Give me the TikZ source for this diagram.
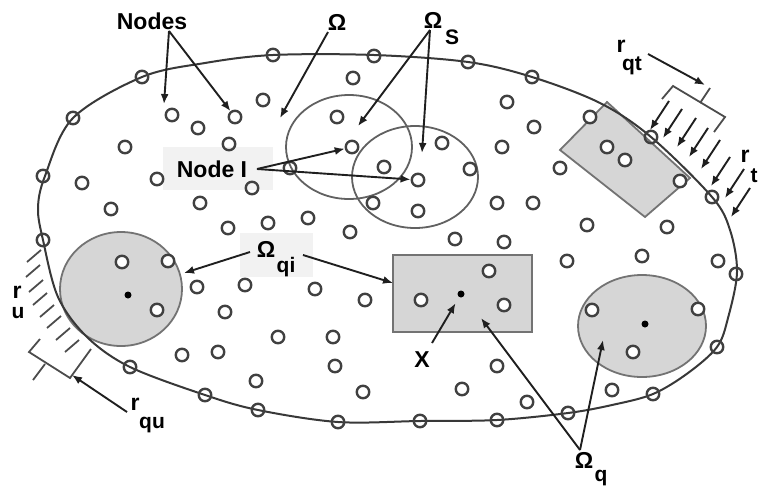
\documentclass[tikz,border=0pt]{standalone}
\usepackage{fontspec}
\setmainfont{Liberation Sans}
\usetikzlibrary{arrows.meta}

\tikzset{
  pt/.style={circle, draw=black!75, line width=2.4pt, minimum size=12.5pt, inner sep=0pt},
  ptw/.style={pt, fill=white},
  dot/.style={circle, fill=black, minimum size=7pt, inner sep=0pt},
  region/.style={fill=black!16, draw=black!55, line width=1.8pt},
  supp/.style={draw=black!62, line width=1.8pt},
  arr/.style={-{Latex[length=10pt,width=8pt]}, line width=1.9pt, black!88},
  load/.style={line width=1.8pt, black!70},
  lbl/.style={font=\fontsize{23}{25}\selectfont\bfseries, inner sep=0pt},
  sublbl/.style={font=\fontsize{21}{23}\selectfont\bfseries, inner sep=0pt},
}

\begin{document}
\begin{tikzpicture}[x=1pt, y=-1pt]
        \useasboundingbox (0,0) rectangle (759,488);

        % light boxes behind two labels
        \fill[black!5] (163,147) rectangle (273,190);
        \fill[black!5] (240,233) rectangle (313,277);

        % quadrature domains
        \filldraw[region] (121,289) ellipse [x radius=61pt, y radius=57pt];
        \filldraw[region] (393,255) rectangle (532,332);
        \filldraw[region] (642,326) ellipse [x radius=64pt, y radius=51pt];
        \filldraw[region] (560,150) -- (607,102) -- (690,178) -- (645,217) -- cycle;

        % problem domain
        \draw[black!78, line width=2pt] plot[smooth cycle, tension=0.55] coordinates {
            (43,240) (38,208) (45,176) (73,118) (142,77) (205,63) (273,55) (374,55)
            (468,62) (532,77) (600,103) (651,137) (712,197) (730,230) (737,272)
            (728,318) (717,347) (688,373) (653,394) (612,405) (568,413) (497,420)
            (420,421) (338,422) (258,410) (205,395) (130,367) (87,337) (58,297)};

        % support domains
        \draw[supp] (349,147) ellipse [x radius=63pt, y radius=52pt];
        \draw[supp] (415,177) ellipse [x radius=63pt, y radius=51pt];

        % essential boundary
        \foreach \x/\y in {27/262, 26/277, 29/292, 33/305, 40/317, 47/328, 56/340, 65/352}
            \draw[load] (\x,\y) -- ++(14,-12);
        \draw[load] (40,339) -- (29,352) -- (70,378) -- (91,349);
        \draw[load] (45,364) -- (33,380);

        % traction boundary
        \draw[load] (662,99) -- (673,86) -- (725,117) -- (714,132);
        \draw[load] (700,103) -- (710,88);
        \foreach \x/\y in {650/130, 663/138, 677/147, 689/157, 701/169, 711/186, 725/198, 731/217}
            \draw[arr] (\x,\y) ++(19,-29) -- (\x,\y);

        % field nodes
        \foreach \x/\y [count=\i] in {43/240, 43/176, 73/118, 142/77, 273/55, 374/56, 468/62,
                532/77, 651/137, 712/197, 736/274, 717/347, 653/394, 568/413, 497/420,
                420/421, 338/422, 258/410, 205/395, 130/367}
            \node (b\i) at (\x,\y)[pt] {};
        \foreach \x/\y [count=\i] in {263/100, 198/128, 229/144, 125/147, 82/183, 157/179,
                111/209, 200/203, 252/188, 228/228, 268/223, 308/218, 350/232, 353/78,
                337/117, 373/203, 384/167, 507/102, 534/127, 502/147, 442/143, 470/169,
                418/211, 560/168, 497/203, 533/203, 455/239, 504/242, 587/225, 667/227,
                197/287, 245/285, 315/289, 365/300, 225/312, 278/337, 333/337, 182/355,
                218/352, 335/366, 256/381, 363/392, 567/261, 642/256, 718/261, 497/366,
                462/389, 527/402, 612/390}
            \node (n\i) at (\x,\y)[pt] {};
        \foreach \x/\y [count=\i] in {590/117, 607/147, 625/160, 680/181, 122/262, 168/261,
                157/310, 421/300, 489/271, 504/305, 592/310, 698/309, 633/352}
            \node (w\i) at (\x,\y)[ptw] {};
        \node (nA) at (172,115)[pt] {};
        \node (nB) at (235,117)[pt] {};
        \node (nI) at (290,168)[pt] {};
        \node (sA) at (352,147)[pt] {};
        \node (sB) at (418,180)[pt] {};

        % centres
        \node (cqi) at (128,295)[dot] {};
        \node (xq) at (461,294)[dot] {};
        \node (cq) at (645,324)[dot] {};

        % labels
        \node (nodes) at (152,21)[lbl] {Nodes};
        \node (om) at (337,22)[lbl] {Ω};
        \node (oms) at (433,20)[lbl] {Ω};
        \node (omssub) at (452,37)[sublbl] {S};
        \node (nodei) at (212,169)[lbl] {Node I};
        \node (omqi) at (266,249)[lbl] {Ω};
        \node (omqisub) at (286,267)[sublbl] {qi};
        \node (xlbl) at (422,360)[lbl] {X};
        \node (omq) at (584,460)[lbl] {Ω};
        \node (omqsub) at (601,478)[sublbl] {q};
        \node (rqt) at (621,46)[lbl] {r};
        \node (rqtsub) at (632,66)[sublbl] {qt};
        \node (rt) at (745,156)[lbl] {r};
        \node (rtsub) at (754,176)[sublbl] {t};
        \node (ru) at (17,292)[lbl] {r};
        \node (rusub) at (18,313)[sublbl] {u};
        \node (rqu) at (135,404)[lbl] {r};
        \node (rqusub) at (152,425)[sublbl] {qu};

        % arrow ends
        \coordinate (nodesft) at (169,31);
        \coordinate (nodestip) at (164,104);
        \coordinate (omft) at (328,32);
        \coordinate (omtip) at (280,118);
        \coordinate (omsft) at (430,30);
        \coordinate (omstipA) at (358,126);
        \coordinate (omstipB) at (422,153);
        \coordinate (nodeift) at (257,169);
        \coordinate (qiftL) at (250,252);
        \coordinate (qiftR) at (303,255);
        \coordinate (qitipL) at (184,273);
        \coordinate (qitipR) at (393,283);
        \coordinate (xft) at (432,343);
        \coordinate (qft) at (580,450);
        \coordinate (qtipA) at (481,318);
        \coordinate (qtipB) at (603,340);
        \coordinate (qtft) at (648,54);
        \coordinate (qttip) at (705,85);
        \coordinate (quft) at (127,412);
        \coordinate (qutip) at (72,375);

        \draw[arr] (nodesft) -- (nodestip);
        \draw[arr] (nodesft) -- (nB);
        \draw[arr] (omft) -- (omtip);
        \draw[arr] (omsft) -- (omstipA);
        \draw[arr] (omsft) -- (omstipB);
        \draw[arr] (nodeift) -- (sA);
        \draw[arr] (nodeift) -- (sB);
        \draw[arr] (qiftL) -- (qitipL);
        \draw[arr] (qiftR) -- (qitipR);
        \draw[arr, shorten >=7pt] (xft) -- (xq);
        \draw[arr] (qft) -- (qtipA);
        \draw[arr] (qft) -- (qtipB);
        \draw[arr] (qtft) -- (qttip);
        \draw[arr] (quft) -- (qutip);

    \end{tikzpicture}
\end{document}
